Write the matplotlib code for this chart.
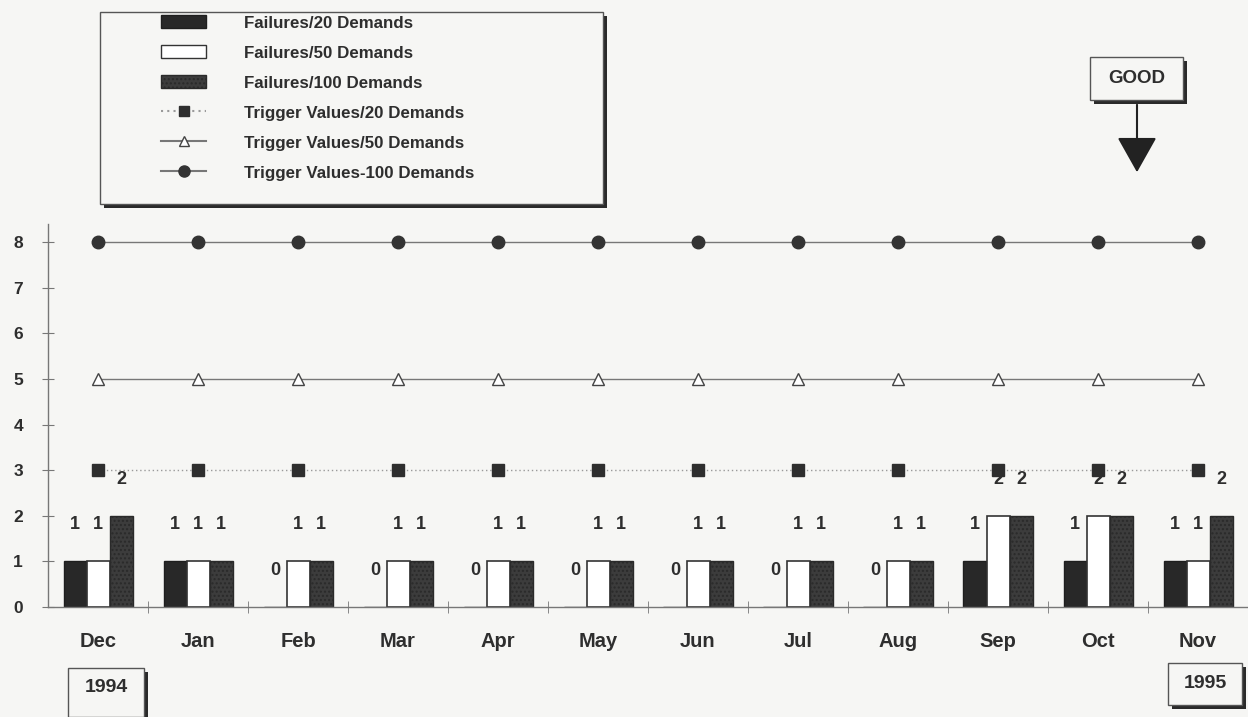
import matplotlib
matplotlib.use("Agg")
import matplotlib.pyplot as plt
from matplotlib.patches import Rectangle, Patch, FancyArrowPatch
from matplotlib.lines import Line2D
import numpy as np

months = ["Dec", "Jan", "Feb", "Mar", "Apr", "May", "Jun", "Jul", "Aug", "Sep", "Oct", "Nov"]
fail_20 = [1, 1, 0, 0, 0, 0, 0, 0, 0, 1, 1, 1]
fail_50 = [1, 1, 1, 1, 1, 1, 1, 1, 1, 2, 2, 1]
fail_100 = [2, 1, 1, 1, 1, 1, 1, 1, 1, 2, 2, 2]
trig_20 = [3] * 12
trig_50 = [5] * 12
trig_100 = [8] * 12
yticks = [0, 1, 2, 3, 4, 5, 6, 7, 8]

W, H = 1248, 717
BG = "#f6f6f4"
INK = "#2e2e2e"
plt.rcParams['font.family'] = ['Liberation Sans', 'DejaVu Sans']
plt.rcParams['hatch.color'] = "#5a5a5a"

fig = plt.figure(figsize=(W / 100, H / 100), dpi=100, facecolor=BG)

def fx(px):
    return px / W

def fy(py):
    return 1 - py / H

ax = fig.add_axes([fx(48), fy(607), fx(1248) - fx(48), fy(224) - fy(607)], facecolor=BG)
x = np.arange(len(months))
bw = 0.23
ax.bar(x - bw, fail_20, bw, color="#282828", edgecolor="#1e1e1e", linewidth=1)
ax.bar(x, fail_50, bw, color="white", edgecolor="#333333", linewidth=1.2)
ax.bar(x + bw, fail_100, bw, color="#3c3c3c", edgecolor="#2a2a2a", linewidth=1,
       hatch="....")

ax.plot(x, trig_20, linestyle=(0, (1, 2)), color="#9a9a9a", linewidth=1,
        marker="s", markersize=8, markerfacecolor="#2e2e2e", markeredgecolor="#2e2e2e", zorder=3)
ax.plot(x, trig_50, linestyle="-", color="#777777", linewidth=1,
        marker="^", markersize=8, markerfacecolor="white", markeredgecolor="#444444", zorder=3)
ax.plot(x, trig_100, linestyle="-", color="#777777", linewidth=1,
        marker="o", markersize=9, markerfacecolor="#333333", markeredgecolor="#333333", zorder=3)

for series, off in ((fail_20, -bw), (fail_50, 0), (fail_100, bw)):
    for i, v in enumerate(series):
        ax.text(x[i] + off, v + 0.8, str(v), ha="center", va="center",
                fontsize=13, fontweight="bold", color=INK, zorder=2)

ax.set_xlim(-0.5, len(months) - 0.5)
ax.set_ylim(0, 8.4)
ax.set_yticks(yticks)
ax.set_yticklabels([str(t) for t in yticks], fontsize=12.5, fontweight="bold", color=INK)
ax.set_xticks(x)
ax.set_xticklabels(months, fontsize=14.5, fontweight="bold", color=INK)
ax.set_xticks(np.arange(len(months) - 1) + 0.5, minor=True)
ax.tick_params(axis="x", which="major", length=0, pad=18)
ax.tick_params(axis="x", which="minor", length=8, direction="inout", color="#777777")
ax.tick_params(axis="y", length=8, direction="inout", color="#777777", pad=14)
for s in ("top", "right"):
    ax.spines[s].set_visible(False)
for s in ("left", "bottom"):
    ax.spines[s].set_color("#777777")
    ax.spines[s].set_linewidth(1)

def shadow_box(x0, y0, x1, y1, text=None, fs=11):
    fig.patches.append(Rectangle((fx(x0) + fx(4), fy(y1) - 4 / H), fx(x1) - fx(x0), fy(y0) - fy(y1),
                                 transform=fig.transFigure, facecolor="#2a2a2a",
                                 edgecolor="none", zorder=1))
    fig.patches.append(Rectangle((fx(x0), fy(y1)), fx(x1) - fx(x0), fy(y0) - fy(y1),
                                 transform=fig.transFigure, facecolor=BG,
                                 edgecolor="#555555", linewidth=1, zorder=2))
    if text:
        fig.text(fx((x0 + x1) / 2), fy((y0 + y1) / 2), text, ha="center", va="center",
                 fontsize=fs, fontweight="bold", color=INK, zorder=3)

# legend box
shadow_box(100, 12, 603, 204)
handles = [
    Patch(facecolor="#282828", edgecolor="#1e1e1e"),
    Patch(facecolor="white", edgecolor="#333333"),
    Patch(facecolor="#3c3c3c", edgecolor="#2a2a2a", hatch="...."),
    Line2D([], [], linestyle=(0, (1, 2)), color="#9a9a9a", marker="s", markersize=7,
           markerfacecolor="#2e2e2e", markeredgecolor="#2e2e2e"),
    Line2D([], [], linestyle="-", color="#777777", marker="^", markersize=7,
           markerfacecolor="white", markeredgecolor="#444444"),
    Line2D([], [], linestyle="-", color="#777777", marker="o", markersize=8,
           markerfacecolor="#333333", markeredgecolor="#333333"),
]
labels = ["Failures/20 Demands", "Failures/50 Demands", "Failures/100 Demands",
          "Trigger Values/20 Demands", "Trigger Values/50 Demands", "Trigger Values-100 Demands"]
leg = fig.legend(handles, labels, loc="upper left", bbox_to_anchor=(fx(153), fy(7)),
                 frameon=False, fontsize=12.2, handlelength=2.6, handleheight=0.8,
                 labelspacing=0.86, handletextpad=2.3, borderpad=0)
for t in leg.get_texts():
    t.set_color(INK)
    t.set_fontweight("bold")
leg.set_zorder(5)

# GOOD box and arrow
shadow_box(1090, 57, 1183, 100, "GOOD", fs=13.5)
fig.add_artist(FancyArrowPatch(
    (fx(1137), fy(102)), (fx(1137), fy(175)), transform=fig.transFigure,
    arrowstyle="-|>,head_length=1.6,head_width=0.9", mutation_scale=14,
    color="#222222", linewidth=1.5))

# year boxes
shadow_box(68, 668, 144, 717, None)
fig.text(fx(106), fy(688), "1994", ha="center", va="center", fontsize=14,
         fontweight="bold", color=INK, zorder=3)
shadow_box(1168, 663, 1242, 705, "1995", fs=14)

fig.savefig("out.png", dpi=100, facecolor=BG)
